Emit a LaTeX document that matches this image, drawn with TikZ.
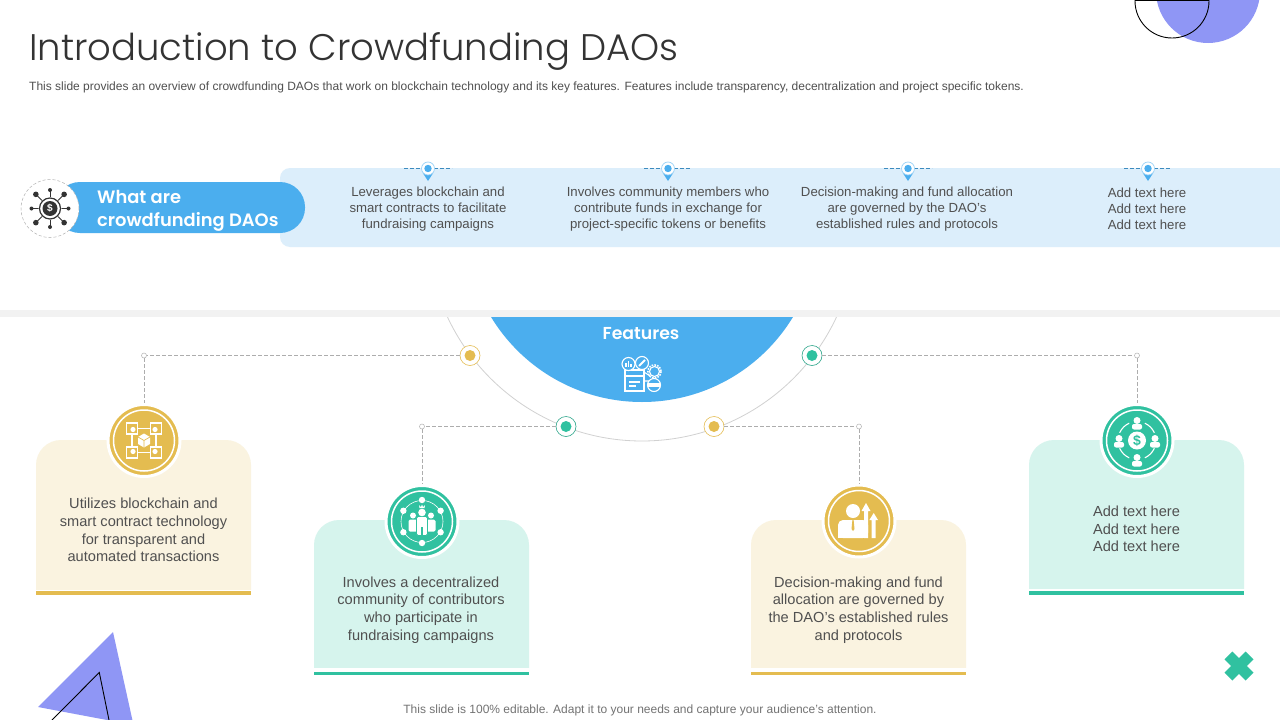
\documentclass[tikz,border=0pt]{standalone}
\usepackage{fontspec}
\setmainfont{Liberation Sans}
\newfontfamily\titlefont{Poppins Light}
\newfontfamily\headfont{Poppins SemiBold}
\definecolor{skyb}{HTML}{4BAEEE}
\definecolor{bandb}{HTML}{DCEEFB}
\definecolor{purp}{HTML}{8F96F5}
\definecolor{teal1}{HTML}{30C1A0}
\definecolor{gold1}{HTML}{E4BC50}
\definecolor{ltteal}{HTML}{D6F4ED}
\definecolor{ltgold}{HTML}{FAF3E0}
\definecolor{txt}{HTML}{505050}
\tikzset{
 x=1pt,y=-1pt,
 dashconn/.style={draw=black!32,line width=.6pt,dash pattern=on 3.5pt off 2.5pt},
 bandtext/.style={text=txt,align=center,font=\fontsize{13.2}{16}\selectfont,inner sep=0pt},
 cardtext/.style={text=txt,align=center,font=\fontsize{14.6}{17.6}\selectfont,inner sep=0pt},
 headtext/.style={text=white,align=left,font=\headfont\fontsize{17.9}{23}\selectfont,inner sep=0pt,anchor=west},
 enddot/.style={circle,draw=black!30,fill=white,line width=.5pt,minimum size=5pt,inner sep=0pt},
 hubgold/.style={circle,draw=gold1,fill=white,line width=.6pt,minimum size=20pt,inner sep=0pt,path picture={\fill[gold1] (path picture bounding box.center) circle[radius=5.5];}},
 hubteal/.style={circle,draw=teal1!85!black,fill=white,line width=.6pt,minimum size=20pt,inner sep=0pt,path picture={\fill[teal1] (path picture bounding box.center) circle[radius=5.5];}},
 badge/.style={circle,fill=#1,draw=white,line width=3pt,minimum size=72pt,inner sep=0pt},
 badgering/.style={circle,draw=white,line width=1.5pt,minimum size=61pt,inner sep=0pt},
 iconline/.style={draw=white,line width=1.1pt},
}
\newcommand{\personicon}[2]{% x y
 \fill[white] (#1,#2-4) circle[radius=3.5];
 \fill[white,rounded corners=2] (#1-5,#2+5) -- (#1-5,#2-.5) -- (#1+5,#2-.5) -- (#1+5,#2+5) -- cycle;
}
\newcommand{\pinicon}[1]{%
 \coordinate (pl#1) at (#1-24,168);
 \coordinate (pr#1) at (#1+24,168);
 \draw[dashconn,draw=skyb!80!black] (pl#1) -- (pr#1);
 \fill[skyb] (#1-5.5,172.5) -- (#1,181) -- (#1+5.5,172.5) -- cycle;
 \node[circle,fill=white,draw=skyb!55,line width=.7pt,minimum size=13pt,inner sep=0pt] (pin#1) at (#1,168.5) {};
 \fill[skyb] (#1,168.5) circle[radius=3.7];
}
\begin{document}
\begin{tikzpicture}
\path[use as bounding box] (0,0) rectangle (1280,720);
\begin{scope}
\clip (0,0) rectangle (1280,720);
\fill[white] (0,0) rectangle (1280,720);
% decorations
\fill[purp] (1208,-9) circle[radius=52];
\draw[black,line width=.9pt] (1135,.5) -- (1209,.5);
\draw[black,line width=.9pt] (1172,1) circle[radius=37];
\fill[purp] (113,632) -- (38,707) -- (133.5,725) -- cycle;
\draw[black,line width=.9pt] (52,720) -- (99.3,672.5) -- (109,720);
\fill[teal1,rotate around={45:(1239,666)}] (1224,660.5) rectangle (1254,671.5);
\fill[teal1,rotate around={45:(1239,666)}] (1233.5,651) rectangle (1244.5,681);
% top band
\fill[bandb,rounded corners=10pt] (280,168) rectangle (1300,247);
\fill[skyb,rounded corners=25pt] (55,182) rectangle (305,233);
\node[circle,fill=white,draw=black!30,dash pattern=on 3pt off 2pt,line width=.5pt,minimum size=58pt,inner sep=0pt] (net) at (50,208.5) {};
\foreach \a in {0,45,...,315}{
 \draw[black!80,line width=.9pt] (50,208.5) -- ++({\a}:{mod(\a,90)==0?18.5:20});
 \fill[black!80] (50,208.5) ++({\a}:{mod(\a,90)==0?18.5:20}) circle[radius={mod(\a,90)==0?2:2.8}];
}
\fill[white] (50,208.5) circle[radius=11.5];
\draw[black!80,line width=1.2pt] (50,208.5) circle[radius=10.5];
\fill[black!80] (50,208.5) circle[radius=7.5];
\node[text=white,inner sep=0pt,font=\bfseries\fontsize{10}{10}\selectfont] (netd) at (50,208.5) {\$};
\node[headtext] (what) at (97,210.5) {What are\\crowdfunding DAOs};
\pinicon{428}\pinicon{668}\pinicon{908}\pinicon{1148}
\node[bandtext] (b1) at (428,209) {Leverages blockchain and\\smart contracts to facilitate\\fundraising campaigns};
\node[bandtext] (b2) at (668,209) {Involves community members who\\contribute funds in exchange for\\project-specific tokens or benefits};
\node[bandtext] (b3) at (907,209) {Decision-making and fund allocation\\are governed by the DAO's\\established rules and protocols};
\node[bandtext] (b4) at (1147,209) {Add text here\\Add text here\\Add text here};
% features half circle
\begin{scope}
\clip (0,317) rectangle (1280,720);
\draw[black!18,line width=.8pt] (642,226.5) circle[radius=214.5];
\fill[skyb] (642,225.5) circle[radius=176.5];
\end{scope}
\fill[black!5] (0,310) rectangle (1280,317);
\node[text=white,inner sep=0pt,font=\headfont\fontsize{17.3}{20}\selectfont] (feat) at (641,333.5) {Features};
% features icon
\begin{scope}[shift={(643,373)}]
\draw[iconline,fill=skyb] (-18,-3) rectangle (1,18);
\draw[iconline] (-18,3) -- (1,3);
\draw[iconline] (-14,9) -- (-3,9) (-14,13) -- (-7,13);
\draw[iconline] (1,8) -- (7,8) (1,-1) -- (7,3);
\draw[iconline,fill=skyb] (-14.5,-9) circle[radius=6.5];
\draw[iconline] (-17,-6) -- (-17,-10) (-14.5,-6) -- (-14.5,-12) (-12,-6) -- (-12,-9);
\draw[iconline,fill=skyb] (-1,-10) circle[radius=6.5];
\draw[white,line width=2pt] (-4,-7) -- (2,-13);
\draw[iconline,fill=skyb] (11.5,-1.5) circle[radius=5];
\draw[white,line width=1.5pt,dash pattern=on 1.6pt off 1.2pt] (11.5,-1.5) circle[radius=6.6];
\draw[iconline,fill=skyb] (11,12) circle[radius=6.5];
\fill[white] (5,10) rectangle (17,14);
\end{scope}
% connectors
\node[hubgold] (h1) at (470,355.5) {};
\node[hubteal] (h2) at (566,426.5) {};
\node[hubgold] (h3) at (714,426.5) {};
\node[hubteal] (h4) at (812,355.5) {};
\node[enddot] (e1) at (144,355.5) {};
\node[enddot] (e2) at (422,426.5) {};
\node[enddot] (e3) at (859,426.5) {};
\node[enddot] (e4) at (1137,355.5) {};
% cards
\fill[ltgold,rounded corners=25pt] (36,440) -- (251,440) -- (251,615) -- (36,615) -- cycle;
\fill[white] (30,589.5) rectangle (260,625);
\fill[gold1] (36,591) rectangle (251,595);
\fill[ltteal,rounded corners=25pt] (314,520) -- (529,520) -- (529,695) -- (314,695) -- cycle;
\fill[white] (308,668) rectangle (535,700);
\fill[teal1] (314,671.5) rectangle (529,675);
\fill[ltgold,rounded corners=25pt] (751,520) -- (966,520) -- (966,695) -- (751,695) -- cycle;
\fill[white] (745,668) rectangle (972,700);
\fill[gold1] (751,671.5) rectangle (966,675);
\fill[ltteal,rounded corners=25pt] (1029,440) -- (1244,440) -- (1244,615) -- (1029,615) -- cycle;
\fill[white] (1023,589) rectangle (1250,625);
\fill[teal1] (1029,591) rectangle (1244,595);
% badges
\node[badge=gold1] (i1) at (144,440.5) {};
\node[badge=teal1] (i2) at (422,521.5) {};
\node[badge=gold1] (i3) at (859,521) {};
\node[badge=teal1] (i4) at (1137,440.5) {};
\node[badgering] (r1) at (i1) {};
\node[badgering] (r2) at (i2) {};
\node[badgering] (r3) at (i3) {};
\node[badgering] (r4) at (i4) {};
\draw[dashconn] (h1) -- (e1) -- (i1);
\draw[dashconn] (h2) -- (e2) -- (i2);
\draw[dashconn] (h3) -- (e3) -- (i3);
\draw[dashconn] (h4) -- (e4) -- (i4);
% blockchain icon
\begin{scope}[shift={(144,440.5)}]
\draw[iconline,line width=1.3pt] (-12,-12) rectangle (12,12);
\foreach \sx/\sy in {-1/-1,1/-1,-1/1,1/1}{
 \draw[iconline,line width=1.3pt,fill=gold1] (\sx*12-5.5,\sy*12-5.5) rectangle (\sx*12+5.5,\sy*12+5.5);
 \fill[white] (\sx*11,\sy*11) circle[radius=2.6];
}
\fill[white] (0,-7) -- (6,-3.5) -- (6,3.5) -- (0,7) -- (-6,3.5) -- (-6,-3.5) -- cycle;
\draw[gold1,line width=.7pt] (-6,-3.5) -- (0,0) -- (6,-3.5) (0,0) -- (0,7);
\end{scope}
% community icon
\begin{scope}[shift={(422,521.5)}]
\draw[white,line width=.6pt] (0,0) circle[radius=21];
\foreach \a in {90,30,-30,-90,-150,150}{\fill[white] (\a:21.5) circle[radius=3.2];}
\foreach \s in {-1,1}{
 \fill[white] (\s*9,-6) circle[radius=3];
 \fill[white,rounded corners=1.5] (\s*9-4.5,-2) rectangle (\s*9+4.5,10);
}
\draw[teal1,line width=.8pt,fill=white,rounded corners=1.5] (-5.5,-5) rectangle (5.5,14);
\fill[teal1] (-.6,5) rectangle (.6,15);
\fill[white] (0,-9) circle[radius=3.8];
\fill[white] (-2.5,-13.5) -- (-3,-16.5) -- (-1,-14.5) -- (0,-17) -- (1,-14.5) -- (3,-16.5) -- (2.5,-13.5) -- cycle;
\end{scope}
% manager icon
\begin{scope}[shift={(859,521)}]
\fill[white] (-6,-10) circle[radius=7];
\fill[white,rounded corners=5pt] (-21,17) -- (-21,-1) -- (9,-1) -- (9,17) -- cycle;
\fill[white] (-21,11) rectangle (9,17);
\fill[gold1] (-6.6,-1) -- (-7.5,8) -- (-6,10) -- (-4.5,8) -- (-5.4,-1) -- cycle;
\fill[white] (7,-18) -- (11.5,-10) -- (9,-10) -- (9,17) -- (5,17) -- (5,-10) -- (2.5,-10) -- cycle;
\fill[white] (14.7,-8) -- (19,-1) -- (16.7,-1) -- (16.7,17) -- (12.7,17) -- (12.7,-1) -- (10.4,-1) -- cycle;
\end{scope}
% funding icon
\begin{scope}[shift={(1137,440.5)}]
\draw[white,line width=1.1pt] (0,0) circle[radius=19];
\fill[teal1] (0,-19) circle[radius=8];
\fill[teal1] (0,19) circle[radius=8];
\fill[teal1] (19,0) circle[radius=8];
\fill[teal1] (-19,0) circle[radius=8];
\personicon{0}{-16}
\personicon{0}{21}
\personicon{18}{2}
\personicon{-18}{2}
\node[circle,fill=white,minimum size=18pt,inner sep=0pt,text=teal1,font=\bfseries\fontsize{14}{14}\selectfont] (dollar) at (0,0) {\$};
\end{scope}
% card text
\node[cardtext] (c1) at (143.5,530) {Utilizes blockchain and\\smart contract technology\\for transparent and\\automated transactions};
\node[cardtext] (c2) at (421,610) {Involves a decentralized\\community of contributors\\who participate in\\fundraising campaigns};
\node[cardtext] (c3) at (858.5,610) {Decision-making and fund\\allocation are governed by\\the DAO's established rules\\and protocols};
\node[cardtext] (c4) at (1136.5,529) {Add text here\\Add text here\\Add text here};
% titles
\node[anchor=west,inner sep=0pt,text=black!80,font=\titlefont\fontsize{37}{40}\selectfont] (title) at (29,51.5) {Introduction to Crowdfunding DAOs};
\node[anchor=west,inner sep=0pt,text=txt,font=\fontsize{12}{14}\selectfont] (sub) at (29,87.5) {This slide provides an overview of crowdfunding DAOs that work on blockchain technology and its key features. Features include transparency, decentralization and project specific tokens.};
\node[inner sep=0pt,text=black!55,font=\fontsize{12}{14}\selectfont] (foot) at (640,710) {This slide is 100\% editable. Adapt it to your needs and capture your audience's attention.};
\end{scope}
\end{tikzpicture}
\end{document}
